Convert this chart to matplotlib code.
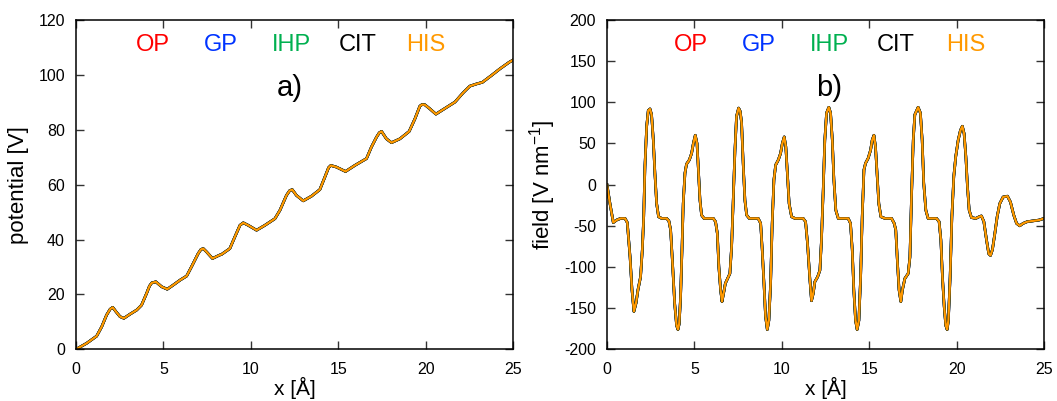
import matplotlib
matplotlib.use("Agg")
import matplotlib.pyplot as plt

plt.rcParams['font.family'] = ['Liberation Sans', 'DejaVu Sans']
plt.rcParams['axes.unicode_minus'] = False

# ---- data ----
series_names = ["OP", "GP", "IHP", "CIT", "HIS"]
series_colors = ["#ff0000", "#0033ff", "#00b050", "#000000", "#ff9900"]

x_pot = [0.00, 0.61, 1.18, 1.47, 1.75, 1.95, 2.10, 2.29, 2.52, 2.74, 3.09, 3.47, 3.75,
         4.04, 4.20, 4.33, 4.57, 4.90, 5.22, 5.56, 5.95, 6.33, 6.61, 6.99, 7.15, 7.28, 7.47,
         7.81, 8.20, 8.33, 8.80, 9.09, 9.38, 9.57, 9.85, 10.33, 10.81, 11.38,
         11.67, 12.04, 12.22, 12.37, 12.61, 13.00, 13.47, 13.95, 14.24, 14.45, 14.58, 14.90,
         15.42, 15.95, 16.43, 16.62, 16.90, 17.19, 17.35, 17.48, 17.76, 18.05, 18.53,
         19.06, 19.39, 19.67, 19.80, 19.96, 20.25, 20.59, 21.01, 21.68, 22.15, 22.53,
         22.91, 23.25, 23.77, 24.25, 24.78, 25.00]
v_pot = [0.0, 2.2, 4.8, 8.2, 12.5, 14.6, 15.3, 13.7, 11.9, 11.3, 12.8, 14.3, 16.1,
         20.4, 23.0, 24.2, 24.6, 22.8, 21.9, 23.4, 25.2, 26.7, 30.1, 34.9, 36.4, 36.7, 35.5,
         33.1, 34.3, 34.6, 36.7, 41.0, 45.2, 46.1, 45.2, 43.4, 45.2, 47.6,
         50.7, 56.1, 57.8, 58.2, 56.1, 54.1, 55.8, 58.2, 62.8, 66.2, 67.0, 66.4,
         64.8, 67.0, 68.8, 69.5, 73.7, 77.3, 78.9, 79.4, 76.7, 75.3, 76.7,
         79.4, 84.0, 88.6, 89.2, 89.1, 87.6, 85.7, 87.4, 90.1, 93.5, 95.9,
         96.7, 97.3, 99.8, 102.2, 104.6, 105.4]

x_field = [0.00, 0.17, 0.36, 0.55, 0.78, 1.03, 1.16, 1.32, 1.43, 1.54, 1.66, 1.77,
           1.92, 2.02, 2.10, 2.17, 2.27, 2.36, 2.46, 2.55, 2.65, 2.74, 2.84, 2.95,
           3.13, 3.41, 3.54, 3.64, 3.75, 3.87, 3.98, 4.06, 4.13, 4.21, 4.29, 4.36,
           4.46, 4.55, 4.71, 4.84, 4.94, 5.05, 5.15, 5.24, 5.32, 5.41, 5.55, 6.08,
           6.21, 6.31, 6.40, 6.50, 6.58, 6.67, 6.77, 6.90, 7.03, 7.13, 7.22, 7.32,
           7.41, 7.53, 7.62, 7.70, 7.79, 7.89, 7.99, 8.14,
           8.65, 8.79, 8.88, 8.98, 9.07, 9.17, 9.26, 9.36, 9.45, 9.55, 9.65, 9.80,
           9.93, 10.03, 10.14, 10.23, 10.33, 10.42, 10.56, 10.75, 11.22, 11.36,
           11.47, 11.61, 11.70, 11.80, 11.89, 12.05, 12.18, 12.27, 12.37, 12.46,
           12.56, 12.69, 12.79, 12.89, 12.98, 13.09, 13.23, 13.80, 13.93, 14.03,
           14.12, 14.22, 14.31, 14.41, 14.51, 14.60, 14.70, 14.79, 14.94, 15.08,
           15.17, 15.27, 15.36, 15.46, 15.55, 15.67, 15.90, 16.28, 16.43,
           16.52, 16.62, 16.71, 16.81, 16.90, 17.04, 17.23, 17.33, 17.42, 17.52,
           17.61, 17.80, 17.93, 18.03, 18.12, 18.24, 18.37, 18.85, 19.00, 19.10,
           19.19, 19.29, 19.38, 19.46, 19.53, 19.63, 19.73, 19.84, 19.95, 20.09,
           20.22, 20.33, 20.43, 20.53, 20.62, 20.72, 20.85, 21.10, 21.29, 21.42,
           21.56, 21.71, 21.84, 21.94, 22.05, 22.19, 22.32, 22.47, 22.66, 22.91,
           23.08, 23.27, 23.43, 23.61, 23.81, 24.04, 24.38, 24.72, 25.00]
e_field = [0, -23, -46, -43, -41, -41, -46, -88, -128, -154, -144, -128,
           -112, -79, -39, 22, 71, 90, 92, 85, 54, 14, -23, -39,
           -41, -41, -44, -55, -96, -144, -171, -176, -169, -136, -79, -23,
           14, 25, 30, 38, 50, 60, 50, 14, -19, -37, -41, -41,
           -45, -59, -100, -128, -142, -132, -120, -114, -108, -75, -19, 42,
           83, 93, 89, 75, 26, -19, -37, -41,
           -41, -47, -79, -120, -160, -176, -165, -120, -47, 6, 24, 30,
           38, 50, 58, 46, 10, -23, -39, -41, -41, -45,
           -71, -116, -141, -132, -118, -112, -104, -67, -6, 54,
           87, 94, 87, 54, 6, -31, -41, -41, -47, -79,
           -128, -165, -176, -165, -112, -39, 18, 26, 32, 42,
           54, 60, 46, 10, -23, -39, -41, -41, -47,
           -55, -96, -128, -142, -128, -114, -108, -88, -15, 54,
           85, 94, 87, 54, 2, -31, -41, -41, -45, -67,
           -112, -148, -171, -176, -165, -112, -39, 10, 34, 54,
           66, 71, 62, 34, -2, -31, -40, -41, -39, -38,
           -45, -67, -84, -86, -79, -59, -39, -23, -15, -14,
           -21, -37, -47, -50, -47, -45, -44, -43, -41]

x_ticks = [0, 5, 10, 15, 20, 25]
pot_ticks = [0, 20, 40, 60, 80, 100, 120]
field_ticks = [-200, -150, -100, -50, 0, 50, 100, 150, 200]

fig = plt.figure(figsize=(10.57, 4.01), dpi=100)
W, H = 1057, 401
axA = fig.add_axes([76 / W, (401 - 349.3) / H, 437 / W, 329.3 / H])
axB = fig.add_axes([607 / W, (401 - 349.3) / H, 437 / W, 329.3 / H])

widths = [1.9, 1.9, 1.9, 1.9, 1.6]


def style(ax):
    ax.tick_params(direction='in', top=True, right=True, length=6, width=1,
                   labelsize=11.5, color='#333333')
    ax.tick_params(axis='x', pad=9)
    ax.tick_params(axis='y', pad=8)
    for s in ax.spines.values():
        s.set_linewidth(1.1)
    ax.set_xlim(0, 25)
    ax.set_xticks(x_ticks)
    ax.set_xlabel('x [Å]', fontsize=15, labelpad=0)


for name, col, lw in zip(series_names, series_colors, widths):
    axA.plot(x_pot, v_pot, color=col, lw=lw, solid_joinstyle='round')
    axB.plot(x_field, e_field, color=col, lw=lw, solid_joinstyle='round')

style(axA)
axA.set_ylim(0, 120)
axA.set_yticks(pot_ticks)
axA.set_ylabel('potential [V]', fontsize=16, labelpad=7)

style(axB)
axB.set_ylim(-200, 200)
axB.set_yticks(field_ticks)
axB.set_ylabel('field [V nm$^{\\mathregular{-1}}$]', fontsize=16, labelpad=4)

legA = [0.175, 0.331, 0.492, 0.644, 0.80]
legB = [0.191, 0.347, 0.508, 0.661, 0.82]
for ax, pos in ((axA, legA), (axB, legB)):
    for name, col, px in zip(series_names, series_colors, pos):
        ax.text(px, 0.924, name, color=col, fontsize=17, ha='center', va='center',
                transform=ax.transAxes)

axA.text(0.49, 0.793, 'a)', fontsize=21, ha='center', va='center', transform=axA.transAxes)
axB.text(0.508, 0.793, 'b)', fontsize=21, ha='center', va='center', transform=axB.transAxes)

fig.savefig('out.png', dpi=100)
